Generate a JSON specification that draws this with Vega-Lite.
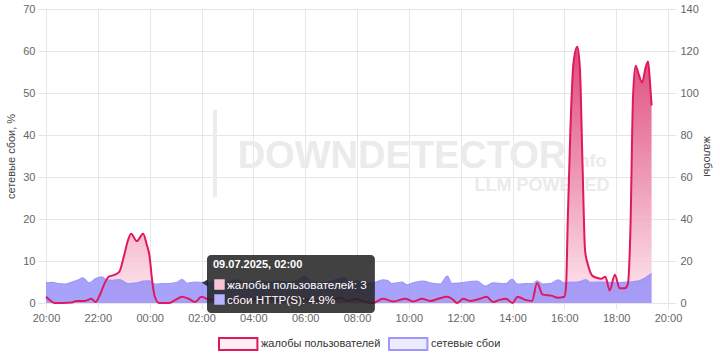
{
  "$schema": "https://vega.github.io/schema/vega-lite/v6.json",
  "width": 622,
  "height": 294,
  "autosize": {"type": "none"},
  "padding": {"left": 46, "top": 9, "right": 52, "bottom": 57},
  "background": "white",
  "config": {
    "font": "Liberation Sans",
    "view": {"stroke": null},
    "axis": {
      "labelFont": "Liberation Sans",
      "labelFontSize": 11,
      "labelColor": "#666666",
      "titleFont": "Liberation Sans",
      "titleFontSize": 11,
      "titleFontWeight": "normal",
      "titleColor": "#444444",
      "gridColor": "#e6e6e6",
      "tickColor": "#e6e6e6",
      "domain": false
    }
  },
  "datasets": {
    "complaints": [
      {"h": 0, "c": 3}, {"h": 0.167, "c": 1.2}, {"h": 0.333, "c": 0}, {"h": 0.667, "c": 0},
      {"h": 1, "c": 0.2}, {"h": 1.167, "c": 1}, {"h": 1.5, "c": 1}, {"h": 1.75, "c": 2},
      {"h": 1.917, "c": 0.5}, {"h": 2.083, "c": 4}, {"h": 2.25, "c": 9}, {"h": 2.417, "c": 12.5},
      {"h": 2.667, "c": 13.5}, {"h": 2.833, "c": 15}, {"h": 3, "c": 22}, {"h": 3.167, "c": 30},
      {"h": 3.283, "c": 33}, {"h": 3.5, "c": 29.5}, {"h": 3.75, "c": 33}, {"h": 3.883, "c": 28},
      {"h": 4, "c": 22}, {"h": 4.083, "c": 12}, {"h": 4.2, "c": 3}, {"h": 4.367, "c": 0},
      {"h": 4.75, "c": 0}, {"h": 5, "c": 1.5}, {"h": 5.25, "c": 3}, {"h": 5.5, "c": 2},
      {"h": 5.75, "c": 0.5}, {"h": 6, "c": 3}, {"h": 6.333, "c": 1.5}, {"h": 6.667, "c": 2.5},
      {"h": 7, "c": 1}, {"h": 7.333, "c": 2}, {"h": 7.667, "c": 0.5}, {"h": 8, "c": 2},
      {"h": 8.333, "c": 1}, {"h": 8.667, "c": 2.5}, {"h": 9, "c": 1}, {"h": 9.333, "c": 2},
      {"h": 9.667, "c": 1}, {"h": 10, "c": 2}, {"h": 10.333, "c": 0.5}, {"h": 10.667, "c": 2},
      {"h": 11, "c": 1}, {"h": 11.333, "c": 2.5}, {"h": 11.667, "c": 1}, {"h": 12, "c": 2},
      {"h": 12.117, "c": 1.4}, {"h": 12.333, "c": 0.5}, {"h": 12.617, "c": 0}, {"h": 13, "c": 2},
      {"h": 13.4, "c": 0.7}, {"h": 13.867, "c": 2}, {"h": 14.167, "c": 0.7}, {"h": 14.517, "c": 2},
      {"h": 14.833, "c": 1}, {"h": 15.133, "c": 2}, {"h": 15.483, "c": 3}, {"h": 15.667, "c": 2},
      {"h": 15.867, "c": 0}, {"h": 16.1, "c": 2}, {"h": 16.367, "c": 1}, {"h": 16.75, "c": 2},
      {"h": 17, "c": 3}, {"h": 17.25, "c": 0.5}, {"h": 17.5, "c": 1.5}, {"h": 17.75, "c": 2},
      {"h": 18, "c": 0}, {"h": 18.2, "c": 3}, {"h": 18.5, "c": 1.5}, {"h": 18.75, "c": 1},
      {"h": 18.95, "c": 9.5}, {"h": 19.167, "c": 4}, {"h": 19.5, "c": 3.5}, {"h": 19.75, "c": 2.5},
      {"h": 20, "c": 3}, {"h": 20.067, "c": 8}, {"h": 20.133, "c": 40}, {"h": 20.233, "c": 82},
      {"h": 20.35, "c": 114}, {"h": 20.5, "c": 122}, {"h": 20.6, "c": 112}, {"h": 20.7, "c": 67},
      {"h": 20.8, "c": 25}, {"h": 20.917, "c": 18}, {"h": 21.083, "c": 13}, {"h": 21.25, "c": 12},
      {"h": 21.417, "c": 11.5}, {"h": 21.583, "c": 12.5}, {"h": 21.75, "c": 6}, {"h": 21.95, "c": 13.5},
      {"h": 22.133, "c": 7}, {"h": 22.333, "c": 7}, {"h": 22.45, "c": 9}, {"h": 22.55, "c": 35},
      {"h": 22.65, "c": 98}, {"h": 22.75, "c": 113}, {"h": 22.867, "c": 109}, {"h": 23, "c": 105},
      {"h": 23.133, "c": 112}, {"h": 23.233, "c": 115}, {"h": 23.3, "c": 106}, {"h": 23.367, "c": 94}
    ],
    "failures": [
      {"h": 0, "f": 4.8}, {"h": 0.25, "f": 4.9}, {"h": 0.5, "f": 4.6}, {"h": 0.75, "f": 4.5},
      {"h": 1, "f": 5}, {"h": 1.25, "f": 5.5}, {"h": 1.417, "f": 6}, {"h": 1.667, "f": 4.8},
      {"h": 1.917, "f": 5.8}, {"h": 2.167, "f": 6.2}, {"h": 2.333, "f": 5.5}, {"h": 2.583, "f": 5.4},
      {"h": 2.833, "f": 5.6}, {"h": 3.167, "f": 4.6}, {"h": 3.5, "f": 4.8}, {"h": 3.75, "f": 5.2},
      {"h": 4, "f": 5.3}, {"h": 4.2, "f": 4.5}, {"h": 4.5, "f": 4.6}, {"h": 4.833, "f": 4.7},
      {"h": 5.083, "f": 5}, {"h": 5.25, "f": 5.6}, {"h": 5.45, "f": 4.7}, {"h": 5.75, "f": 5},
      {"h": 6, "f": 4.9}, {"h": 6.25, "f": 4.8}, {"h": 6.5, "f": 5.2}, {"h": 6.75, "f": 4.7},
      {"h": 7, "f": 5}, {"h": 7.333, "f": 5.5}, {"h": 7.667, "f": 4.8}, {"h": 8, "f": 5},
      {"h": 8.333, "f": 5.3}, {"h": 8.667, "f": 4.9}, {"h": 9, "f": 5.2}, {"h": 9.333, "f": 5},
      {"h": 9.667, "f": 5.3}, {"h": 10, "f": 6.3}, {"h": 10.25, "f": 5}, {"h": 10.667, "f": 4.8},
      {"h": 11, "f": 5.2}, {"h": 11.5, "f": 6}, {"h": 11.75, "f": 4.9}, {"h": 12, "f": 5.2},
      {"h": 12.333, "f": 4.8}, {"h": 12.617, "f": 4.8}, {"h": 13, "f": 5.5}, {"h": 13.167, "f": 5.4},
      {"h": 13.333, "f": 4.6}, {"h": 13.75, "f": 5}, {"h": 13.917, "f": 4.3}, {"h": 14.167, "f": 4.8},
      {"h": 14.517, "f": 5.2}, {"h": 15, "f": 4.6}, {"h": 15.217, "f": 4.5}, {"h": 15.483, "f": 6.4},
      {"h": 15.667, "f": 4.6}, {"h": 16, "f": 4.8}, {"h": 16.633, "f": 5.2}, {"h": 16.95, "f": 4},
      {"h": 17.25, "f": 4.8}, {"h": 17.75, "f": 4.6}, {"h": 17.983, "f": 5.7}, {"h": 18.183, "f": 4.5},
      {"h": 18.5, "f": 4.6}, {"h": 18.833, "f": 4.7}, {"h": 18.95, "f": 5.3}, {"h": 19.167, "f": 4.5},
      {"h": 19.5, "f": 4.7}, {"h": 19.767, "f": 5.5}, {"h": 20, "f": 4.8}, {"h": 20.25, "f": 5},
      {"h": 20.5, "f": 5}, {"h": 20.667, "f": 5.2}, {"h": 20.833, "f": 5.6}, {"h": 21, "f": 4.9},
      {"h": 21.5, "f": 5}, {"h": 22, "f": 4.8}, {"h": 22.5, "f": 5}, {"h": 22.833, "f": 5.2},
      {"h": 23, "f": 5.6}, {"h": 23.167, "f": 6.2}, {"h": 23.367, "f": 7}
    ]
  },
  "resolve": {"scale": {"y": "independent"}},
  "layer": [
    {
      "data": {"values": [{}]},
      "layer": [
        {
          "mark": {"type": "text", "font": "Liberation Sans", "fontWeight": "bold", "fontSize": 38, "color": "#ebebeb", "align": "center", "baseline": "middle"},
          "encoding": {
            "x": {"datum": 13.736, "type": "quantitative", "scale": {"domain": [0, 24], "nice": false, "zero": false}, "axis": {"title": null, "values": [0, 2, 4, 6, 8, 10, 12, 14, 16, 18, 20, 22, 24], "labelExpr": "(((20 + datum.value) % 24) < 10 ? '0' : '') + ((20 + datum.value) % 24) + ':00'", "grid": true, "tickSize": 6, "labelPadding": 3, "labelFlush": false, "labelOverlap": false}},
            "y": {"datum": 34.76, "type": "quantitative", "scale": {"domain": [0, 70], "nice": false}, "axis": null},
            "text": {"value": "DOWNDETECTOR"}
          }
        },
        {
          "mark": {"type": "text", "font": "Liberation Sans", "fontWeight": "bold", "fontSize": 18, "color": "#ebebeb", "align": "center", "baseline": "middle"},
          "encoding": {
            "x": {"datum": 20.99, "type": "quantitative"},
            "y": {"datum": 33.57, "type": "quantitative"},
            "text": {"value": "info"}
          }
        },
        {
          "mark": {"type": "text", "font": "Liberation Sans", "fontWeight": "bold", "fontSize": 18, "color": "#ebebeb", "align": "center", "baseline": "middle"},
          "encoding": {
            "x": {"datum": 19.14, "type": "quantitative"},
            "y": {"datum": 27.86, "type": "quantitative"},
            "text": {"value": "LLM POWERED"}
          }
        },
        {
          "mark": {"type": "rule", "color": "#ececec", "strokeWidth": 4},
          "encoding": {
            "x": {"datum": 6.52, "type": "quantitative"},
            "y": {"datum": 46, "type": "quantitative"},
            "y2": {"datum": 25.2}
          }
        }
      ]
    },
    {
      "data": {"name": "complaints"},
      "mark": {"type": "area", "interpolate": "monotone", "fillOpacity": 0.92, "fill": {"gradient": "linear", "x1": 0, "y1": 1, "x2": 0, "y2": 0, "stops": [{"offset": 0, "color": "#fde6ee"}, {"offset": 1, "color": "#dc3a72"}]}},
      "encoding": {
        "x": {"field": "h", "type": "quantitative"},
        "y": {"field": "c", "type": "quantitative", "scale": {"domain": [0, 140], "nice": false}, "axis": {"orient": "right", "title": "жалобы", "values": [0, 20, 40, 60, 80, 100, 120, 140], "grid": false, "tickSize": 8, "labelPadding": 4, "titlePadding": 3}}
      }
    },
    {
      "data": {"name": "failures"},
      "layer": [
        {
          "mark": {"type": "area", "interpolate": "monotone", "fill": "#8a84fa", "fillOpacity": 0.75},
          "encoding": {
            "x": {"field": "h", "type": "quantitative"},
            "y": {"field": "f", "type": "quantitative", "scale": {"domain": [0, 70], "nice": false}, "axis": {"orient": "left", "title": "сетевые сбои, %", "values": [0, 10, 20, 30, 40, 50, 60, 70], "grid": true, "tickSize": 8, "labelPadding": 3, "titlePadding": 6}}
          }
        },
        {
          "mark": {"type": "line", "interpolate": "monotone", "strokeWidth": 1.2},
          "encoding": {
            "x": {"field": "h", "type": "quantitative"},
            "y": {"field": "f", "type": "quantitative"},
            "stroke": {"datum": "сетевые сбои"}
          }
        }
      ]
    },
    {
      "data": {"name": "complaints"},
      "mark": {"type": "line", "interpolate": "monotone", "strokeWidth": 2},
      "encoding": {
        "x": {"field": "h", "type": "quantitative"},
        "y": {"field": "c", "type": "quantitative", "scale": {"domain": [0, 140], "nice": false}, "axis": null},
        "stroke": {
          "datum": "жалобы пользователей",
          "scale": {"domain": ["жалобы пользователей", "сетевые сбои"], "range": ["#e0185e", "#9d97fb"]},
          "legend": {
            "orient": "none",
            "legendX": 172,
            "legendY": 328,
            "direction": "horizontal",
            "title": null,
            "symbolType": "M-1,-1H5.4V1H-1Z",
            "symbolSize": 144,
            "symbolStrokeWidth": 2,
            "labelOffset": 29,
            "columnPadding": 4,
            "labelFont": "Liberation Sans",
            "labelFontSize": 11,
            "labelColor": "#333333",
            "encode": {"symbols": {"update": {"fill": {"signal": "datum.value === 'жалобы пользователей' ? '#fdeef3' : '#ecebfe'"}, "fillOpacity": {"value": 1}, "opacity": {"value": 1}}}}
          }
        }
      }
    },
    {
      "data": {"values": [{}]},
      "layer": [
        {
          "mark": {"type": "rect", "cornerRadius": 4, "fill": "#222222", "fillOpacity": 0.86},
          "encoding": {
            "x": {"datum": 6.212, "type": "quantitative"},
            "x2": {"datum": 12.69},
            "y": {"datum": 11.43, "type": "quantitative", "scale": {"domain": [0, 70], "nice": false}, "axis": null},
            "y2": {"datum": -2.38}
          }
        },
        {
          "mark": {"type": "point", "shape": "triangle-left", "filled": true, "fill": "#222222", "opacity": 0.86, "size": 50},
          "encoding": {
            "x": {"datum": 6.135, "type": "quantitative"},
            "y": {"datum": 4.8, "type": "quantitative"}
          }
        },
        {
          "mark": {"type": "text", "font": "Liberation Sans", "fontWeight": "bold", "fontSize": 11, "color": "white", "align": "left", "baseline": "middle"},
          "encoding": {
            "x": {"datum": 6.444, "type": "quantitative"},
            "y": {"datum": 9.05, "type": "quantitative"},
            "text": {"value": "09.07.2025, 02:00"}
          }
        },
        {
          "mark": {"type": "point", "shape": "square", "filled": true, "fill": "#f8c4d5", "opacity": 1, "size": 110},
          "encoding": {
            "x": {"datum": 6.694, "type": "quantitative"},
            "y": {"datum": 4.4, "type": "quantitative"}
          }
        },
        {
          "mark": {"type": "point", "shape": "square", "filled": true, "fill": "#b6b2fc", "opacity": 1, "size": 110},
          "encoding": {
            "x": {"datum": 6.694, "type": "quantitative"},
            "y": {"datum": 0.83, "type": "quantitative"}
          }
        },
        {
          "mark": {"type": "text", "font": "Liberation Sans", "fontSize": 11.7, "color": "white", "align": "left", "baseline": "middle"},
          "encoding": {
            "x": {"datum": 6.984, "type": "quantitative"},
            "y": {"datum": 4.4, "type": "quantitative"},
            "text": {"value": "жалобы пользователей: 3"}
          }
        },
        {
          "mark": {"type": "text", "font": "Liberation Sans", "fontSize": 11.7, "color": "white", "align": "left", "baseline": "middle"},
          "encoding": {
            "x": {"datum": 6.984, "type": "quantitative"},
            "y": {"datum": 0.83, "type": "quantitative"},
            "text": {"value": "сбои HTTP(S): 4.9%"}
          }
        }
      ]
    }
  ]
}
